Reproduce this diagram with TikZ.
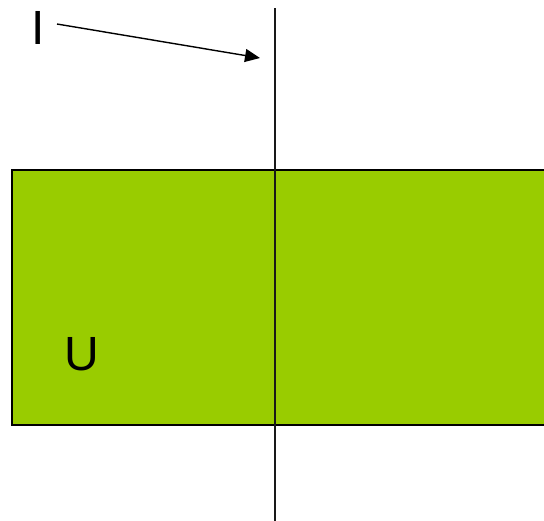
\documentclass[tikz,border=0pt]{standalone}
\usepackage{fontspec}
\setmainfont{Liberation Sans}
\usetikzlibrary{positioning, arrows.meta}
\definecolor{plategreen}{HTML}{99CC00}
\tikzset{
  % Conductor plate
  plate/.style={
    draw=black, fill=plategreen, line width=2pt
  },
  % Wire and current arrow
  wire/.style={
    draw=black!90, line width=1.8pt
  },
  pointer/.style={
    -{Triangle[length=15pt, width=13pt]}, line width=1.4pt
  },
  lbl/.style={
    font=\fontsize{48}{52}\selectfont, inner sep=0pt
  },
}

\begin{document}
\begin{tikzpicture}[x=1pt, y=-1pt]
  \useasboundingbox (0,0) rectangle (544,520);

  %% ── Plate ──
  \node[plate, minimum width=540pt, minimum height=255pt, inner sep=0pt,
        anchor=north west] (plate) at (11,169) {};

  %% ── Wire ──
  \coordinate (wtop) at (275,8);
  \coordinate (wbot) at (275,522);
  \draw[wire] (wtop) -- (wbot);

  %% ── Labels ──
  \node[lbl, anchor=base west] (cur) at (31,44) {I};
  \node[lbl, anchor=base west] (volt) at (64,370) {U};

  %% ── Current arrow ──
  \coordinate (tail) at (57,24);
  \coordinate (hit) at (260,58);
  \draw[pointer] (tail) -- (hit);
\end{tikzpicture}
\end{document}
